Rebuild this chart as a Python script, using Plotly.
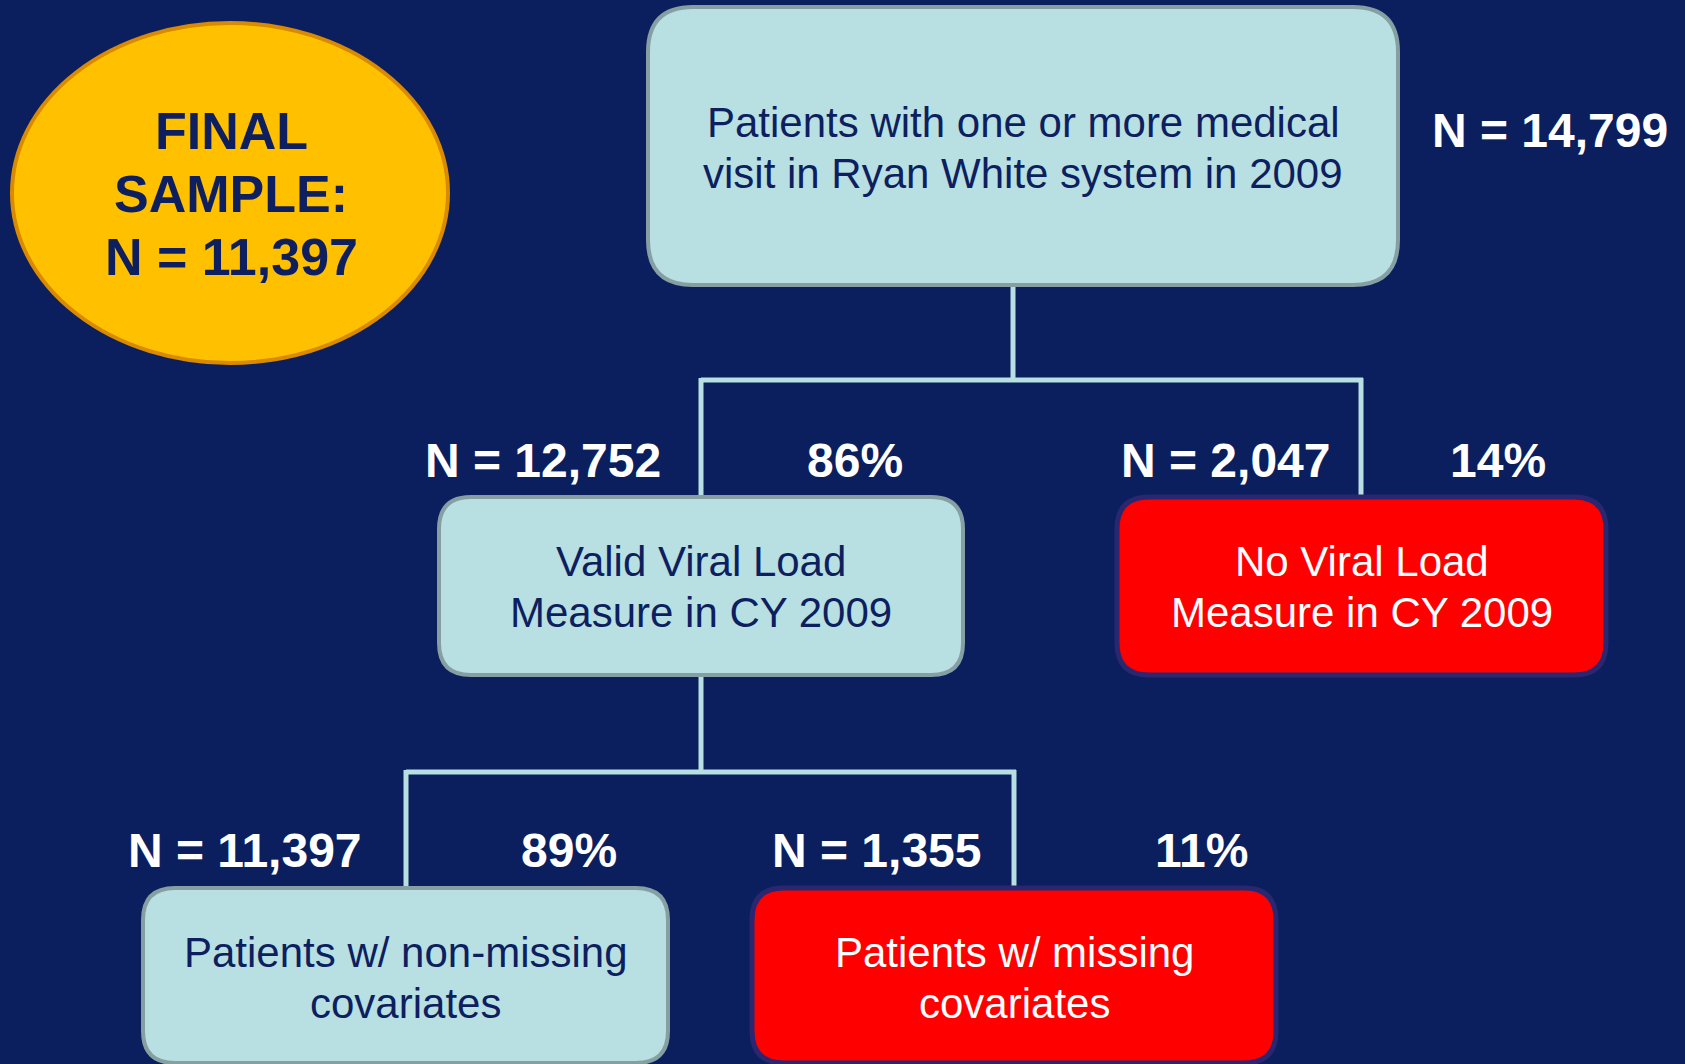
import plotly.graph_objects as go

# ---- data ----
node_labels = [
    "Patients with one or more medical<br>visit in Ryan White system in 2009",
    "Valid Viral Load<br>Measure in CY 2009",
    "No Viral Load<br>Measure in CY 2009",
    "Patients w/ non-missing<br>covariates",
    "Patients w/ missing<br>covariates",
]
node_n = [14799, 12752, 2047, 11397, 1355]
node_pct = [None, 86, 14, 89, 11]
node_excluded = [False, False, True, False, True]
final_sample_n = 11397
final_sample_title = ["FINAL", "SAMPLE:"]

# ---- style / layout ----
W, H = 1685, 1064
BG = "#0B1F5F"
LIGHT = "#B8DFE2"
LIGHT_BORDER = "#869FA3"
RED = "#FF0000"
RED_BORDER = "#2A2670"
NAVY_TEXT = "#0D1F5E"
FONT = "Liberation Sans, Arial, sans-serif"

# box geometry: (x0, x1, y0, y1, radius)
boxes = [
    (648, 1398, 7, 285, 45),
    (439, 963, 497, 675, 32),
    (1117, 1606, 497, 675, 32),
    (143, 668, 888, 1063, 32),
    (752, 1276, 888, 1063, 32),
]
line_y = [[122, 173], [561, 612], [561, 612], [952, 1003], [952, 1003]]
n_pos = [(1550, 130), (543, 460), (1225, 460), (245, 850), (876, 850)]
pct_pos = [None, (855, 460), (1498, 460), (569, 850), (1201, 850)]


def rounded_rect(x0, x1, y0, y1, r):
    return (f"M {x0+r},{y0} L {x1-r},{y0} Q {x1},{y0} {x1},{y0+r} "
            f"L {x1},{y1-r} Q {x1},{y1} {x1-r},{y1} L {x0+r},{y1} "
            f"Q {x0},{y1} {x0},{y1-r} L {x0},{y0+r} Q {x0},{y0} {x0+r},{y0} Z")


shapes = []
# connectors
conn = dict(type="line", line=dict(color=LIGHT, width=5), layer="above")
conn_segments = [
    (1013, 285, 1013, 380),
    (701, 380, 1363, 380),
    (701, 378, 701, 497),
    (1361, 378, 1361, 497),
    (701, 675, 701, 772),
    (406, 772, 1016, 772),
    (406, 770, 406, 888),
    (1014, 770, 1014, 888),
]
for x0, y0, x1, y1 in conn_segments:
    shapes.append(dict(conn, x0=x0, y0=y0, x1=x1, y1=y1))

# boxes
for (x0, x1, y0, y1, r), excl in zip(boxes, node_excluded):
    shapes.append(dict(
        type="path", path=rounded_rect(x0, x1, y0, y1, r),
        fillcolor=RED if excl else LIGHT,
        line=dict(color=RED_BORDER if excl else LIGHT_BORDER, width=5 if excl else 4),
        layer="above",
    ))

# ellipse
shapes.append(dict(type="circle", x0=12, x1=448, y0=23, y1=363,
                   fillcolor="#FFC000", line=dict(color="#D98A00", width=4), layer="above"))

annotations = []
for i, label in enumerate(node_labels):
    x0, x1 = boxes[i][0], boxes[i][1]
    cx = (x0 + x1) / 2
    for line, y in zip(label.split("<br>"), line_y[i]):
        annotations.append(dict(
            x=cx, y=y, text=line, showarrow=False, xanchor="center", yanchor="middle",
            font=dict(family=FONT, size=42, color="white" if node_excluded[i] else NAVY_TEXT),
        ))
    nx, ny = n_pos[i]
    annotations.append(dict(
        x=nx, y=ny, text=f"<b>N = {node_n[i]:,}</b>", showarrow=False,
        xanchor="center", yanchor="middle",
        font=dict(family=FONT, size=48, color="white"),
    ))
    if node_pct[i] is not None:
        px, py = pct_pos[i]
        annotations.append(dict(
            x=px, y=py, text=f"<b>{node_pct[i]}%</b>", showarrow=False,
            xanchor="center", yanchor="middle",
            font=dict(family=FONT, size=48, color="white"),
        ))

ell_lines = final_sample_title + [f"N = {final_sample_n:,}"]
for line, y in zip(ell_lines, [131, 194, 257]):
    annotations.append(dict(
        x=231, y=y, text=f"<b>{line}</b>", showarrow=False,
        xanchor="center", yanchor="middle",
        font=dict(family=FONT, size=52, color=NAVY_TEXT),
    ))

fig = go.Figure()
fig.update_layout(
    width=W, height=H,
    margin=dict(l=0, r=0, t=0, b=0),
    paper_bgcolor=BG, plot_bgcolor=BG,
    xaxis=dict(range=[0, W], visible=False, fixedrange=True),
    yaxis=dict(range=[H, 0], visible=False, fixedrange=True),
    shapes=shapes, annotations=annotations, showlegend=False,
)
fig.write_html(
    "out.html",
    config={"displayModeBar": False},
    post_script=f"document.body.style.margin='0';document.body.style.overflow='hidden';"
                f"document.body.style.background='{BG}';",
)
